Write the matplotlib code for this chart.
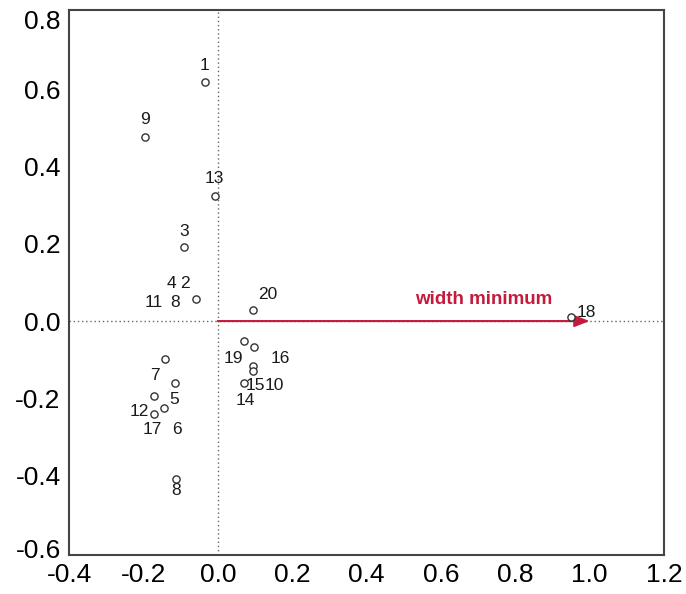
import matplotlib
matplotlib.use('Agg')
import matplotlib.pyplot as plt
import matplotlib.transforms as mtransforms

plt.rcParams['font.family'] = ['Liberation Sans', 'DejaVu Sans']

# observation coordinates (circles)
obs_x = [-0.035, -0.196, -0.008, -0.091, -0.059, 0.094, 0.949,
         -0.142, -0.116, -0.172, -0.145, -0.172, -0.113,
         0.070, 0.097, 0.094, 0.094, 0.070]
obs_y = [0.619, 0.477, 0.324, 0.192, 0.057, 0.028, 0.010,
         -0.098, -0.161, -0.194, -0.225, -0.241, -0.409,
         -0.052, -0.067, -0.117, -0.130, -0.161]

# observation labels
lab_text = ['1', '9', '13', '3', '4', '2', '11', '8', '20', '18',
            '7', '5', '12', '17', '6', '8', '19', '16', '15', '10', '14']
lab_x = [-0.036, -0.196, -0.008, -0.091, -0.124, -0.089, -0.172, -0.116, 0.134, 0.992,
         -0.169, -0.118, -0.210, -0.175, -0.110, -0.113, 0.043, 0.167, 0.102, 0.153, 0.073]
lab_y = [0.663, 0.521, 0.370, 0.233, 0.098, 0.098, 0.047, 0.047, 0.070, 0.023,
         -0.140, -0.202, -0.233, -0.282, -0.282, -0.440, -0.096, -0.096, -0.166, -0.168, -0.207]

# variable vector
var_name = 'width minimum'
var_x = 1.0
var_y = 0.0

xticks = [-0.4, -0.2, 0.0, 0.2, 0.4, 0.6, 0.8, 1.0, 1.2]
yticks = [-0.6, -0.4, -0.2, 0.0, 0.2, 0.4, 0.6, 0.8]

red = '#c41a3d'

fig = plt.figure(figsize=(6.86, 5.94), dpi=100)
ax = fig.add_axes([0.1006, 0.0657, 0.8673, 0.9175])

ax.axhline(0, color='#666666', lw=1.0, ls=(0, (1, 2)), zorder=1)
ax.axvline(0, color='#666666', lw=1.0, ls=(0, (1, 2)), zorder=1)

ax.annotate('', xy=(var_x, var_y), xytext=(0, 0),
            arrowprops=dict(arrowstyle='-|>,head_length=0.9,head_width=0.35',
                            color=red, lw=1.5, shrinkA=0, shrinkB=0), zorder=2)
ax.text(0.715, 0.055, var_name, color=red, fontsize=13.5, fontweight='bold',
        ha='center', va='center')

ax.scatter(obs_x, obs_y, s=27, facecolors='white', edgecolors='#333333',
           linewidths=1.0, zorder=3)

for t, x, y in zip(lab_text, lab_x, lab_y):
    ax.text(x, y, t, fontsize=12.5, color='#1a1a1a', ha='center', va='center', zorder=4)

ax.set_xlim(-0.4, 1.2)
ax.set_ylim(-0.606, 0.806)
ax.set_xticks(xticks)
ax.set_yticks(yticks)
ax.set_xticklabels(['%.1f' % v for v in xticks])
ax.set_yticklabels(['%.1f' % v for v in yticks])
ax.tick_params(length=0, labelsize=19, pad=6, colors='black')
for s in ax.spines.values():
    s.set_color('#444444')
    s.set_linewidth(1.5)

# end labels on the y axis sit a little inside the frame
ylabs = ax.get_yticklabels()
ylabs[-1].set_transform(ylabs[-1].get_transform() +
                        mtransforms.ScaledTranslation(0, -7 / 100, fig.dpi_scale_trans))
ylabs[0].set_transform(ylabs[0].get_transform() +
                       mtransforms.ScaledTranslation(0, 4 / 100, fig.dpi_scale_trans))

fig.savefig('out.png', dpi=100)
